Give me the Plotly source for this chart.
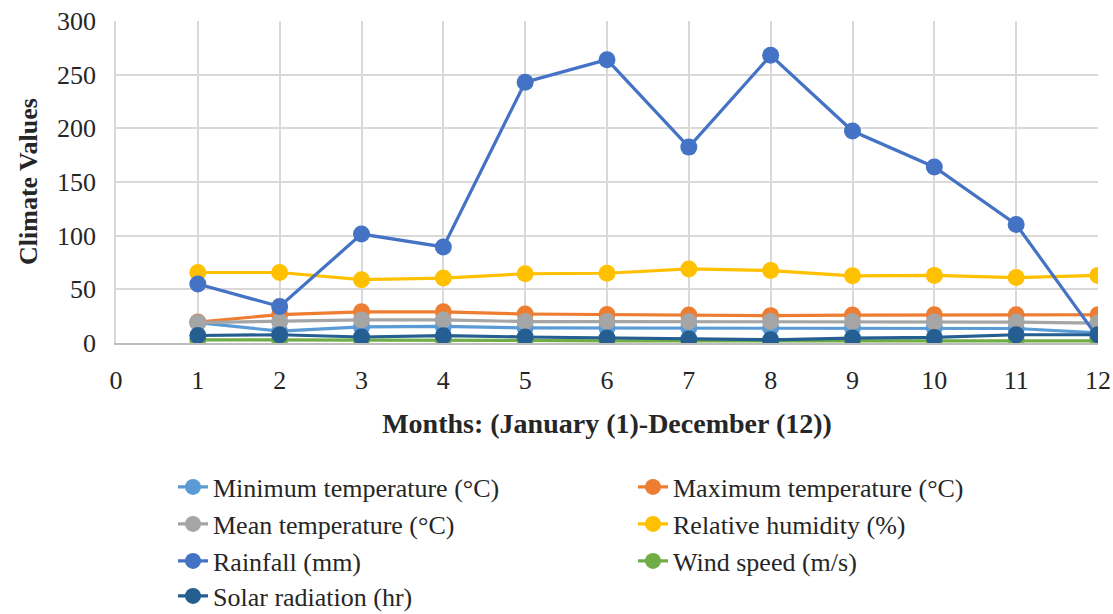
import plotly.graph_objects as go

months = list(range(1, 13))
min_temp = [19, 11, 15, 15.5, 14, 14, 14, 14, 14, 14, 13.5, 9.5]
max_temp = [19.5, 26.5, 29, 29, 27, 26.5, 26, 25.5, 26, 26.3, 26.3, 26.3]
mean_temp = [19, 20, 21.5, 21.5, 20, 20, 20, 20, 20, 19.5, 19.5, 18.6]
rel_hum = [65.7, 65.7, 59, 60.5, 64.5, 65, 69, 67.5, 62.6, 63, 61, 63]
rainfall = [55, 34, 101.5, 89.5, 243, 264, 182.5, 268, 197.5, 164, 110.5, 5]
wind = [3, 3, 3, 3, 2.5, 2, 2, 2, 2, 2, 2.5, 2]
solar = [7, 7.7, 5.6, 6.8, 5.6, 4.6, 3.7, 3, 4.6, 5.2, 7.7, 7.7]

series_names = ["Minimum temperature (°C)", "Maximum temperature (°C)", "Mean temperature (°C)",
                "Relative humidity (%)", "Rainfall (mm)", "Wind speed (m/s)", "Solar radiation (hr)"]
series_vals = [min_temp, max_temp, mean_temp, rel_hum, rainfall, wind, solar]
colors = ["#5B9BD5", "#ED7D31", "#A5A5A5", "#FFC000", "#4472C4", "#70AD47", "#255E91"]

FONT = "Liberation Serif"
W, H = 1113, 614
L, R, T, B = 116, 15, 21, 271

fig = go.Figure()
legend_ids = ["legend", "legend2", "legend3", "legend4", "legend5", "legend6", "legend7"]
for i, (name, vals, col) in enumerate(zip(series_names, series_vals, colors)):
    fig.add_trace(go.Scatter(
        x=months, y=vals, name=name, mode="lines+markers",
        line=dict(color=col, width=3.2),
        marker=dict(color=col, size=17),
        legend=legend_ids[i],
    ))

# legend layout: two columns, four rows
col_x = [173, 633]
row_y = [487, 524, 561, 596]
layout_legends = {}
for i, lid in enumerate(legend_ids):
    c = i % 2
    r = i // 2
    layout_legends[lid] = dict(
        x=col_x[c] / W, y=1 - row_y[r] / H, xref="container", yref="container",
        xanchor="left", yanchor="middle", bgcolor="rgba(0,0,0,0)",
        font=dict(family=FONT, size=26, color="#262626"), borderwidth=0,
    )

fig.update_layout(
    width=W, height=H,
    margin=dict(l=L, r=R, t=T, b=B, autoexpand=False),
    plot_bgcolor="white", paper_bgcolor="white",
    font=dict(family=FONT, size=26, color="#262626"),
    showlegend=True,
    **layout_legends,
)
fig.update_xaxes(
    range=[0, 12], tickmode="linear", tick0=0, dtick=1,
    showgrid=True, gridcolor="#D9D9D9", gridwidth=1.5,
    showline=True, linecolor="#BFBFBF", linewidth=2,
    zeroline=False, ticks="", ticklabelstandoff=13,
    tickfont=dict(family=FONT, size=26, color="#262626"),
    title=dict(text="<b>Months: (January (1)-December (12))</b>",
               font=dict(family=FONT, size=28, color="#262626"), standoff=19),
)
fig.update_yaxes(
    range=[0, 300], tickmode="linear", tick0=0, dtick=50,
    showgrid=True, gridcolor="#D9D9D9", gridwidth=1.5,
    showline=True, linecolor="#D9D9D9", linewidth=1.5,
    zeroline=False, ticks="", ticklabelstandoff=13,
    tickfont=dict(family=FONT, size=26, color="#262626"),
)
plot_w = W - L - R
fig.add_annotation(
    text="<b>Climate Values</b>", textangle=-90,
    xref="paper", yref="paper", x=(28 - L) / plot_w, y=0.5,
    xanchor="center", yanchor="middle", showarrow=False,
    font=dict(family=FONT, size=26, color="#262626"),
)

fig.write_html("out.html")
